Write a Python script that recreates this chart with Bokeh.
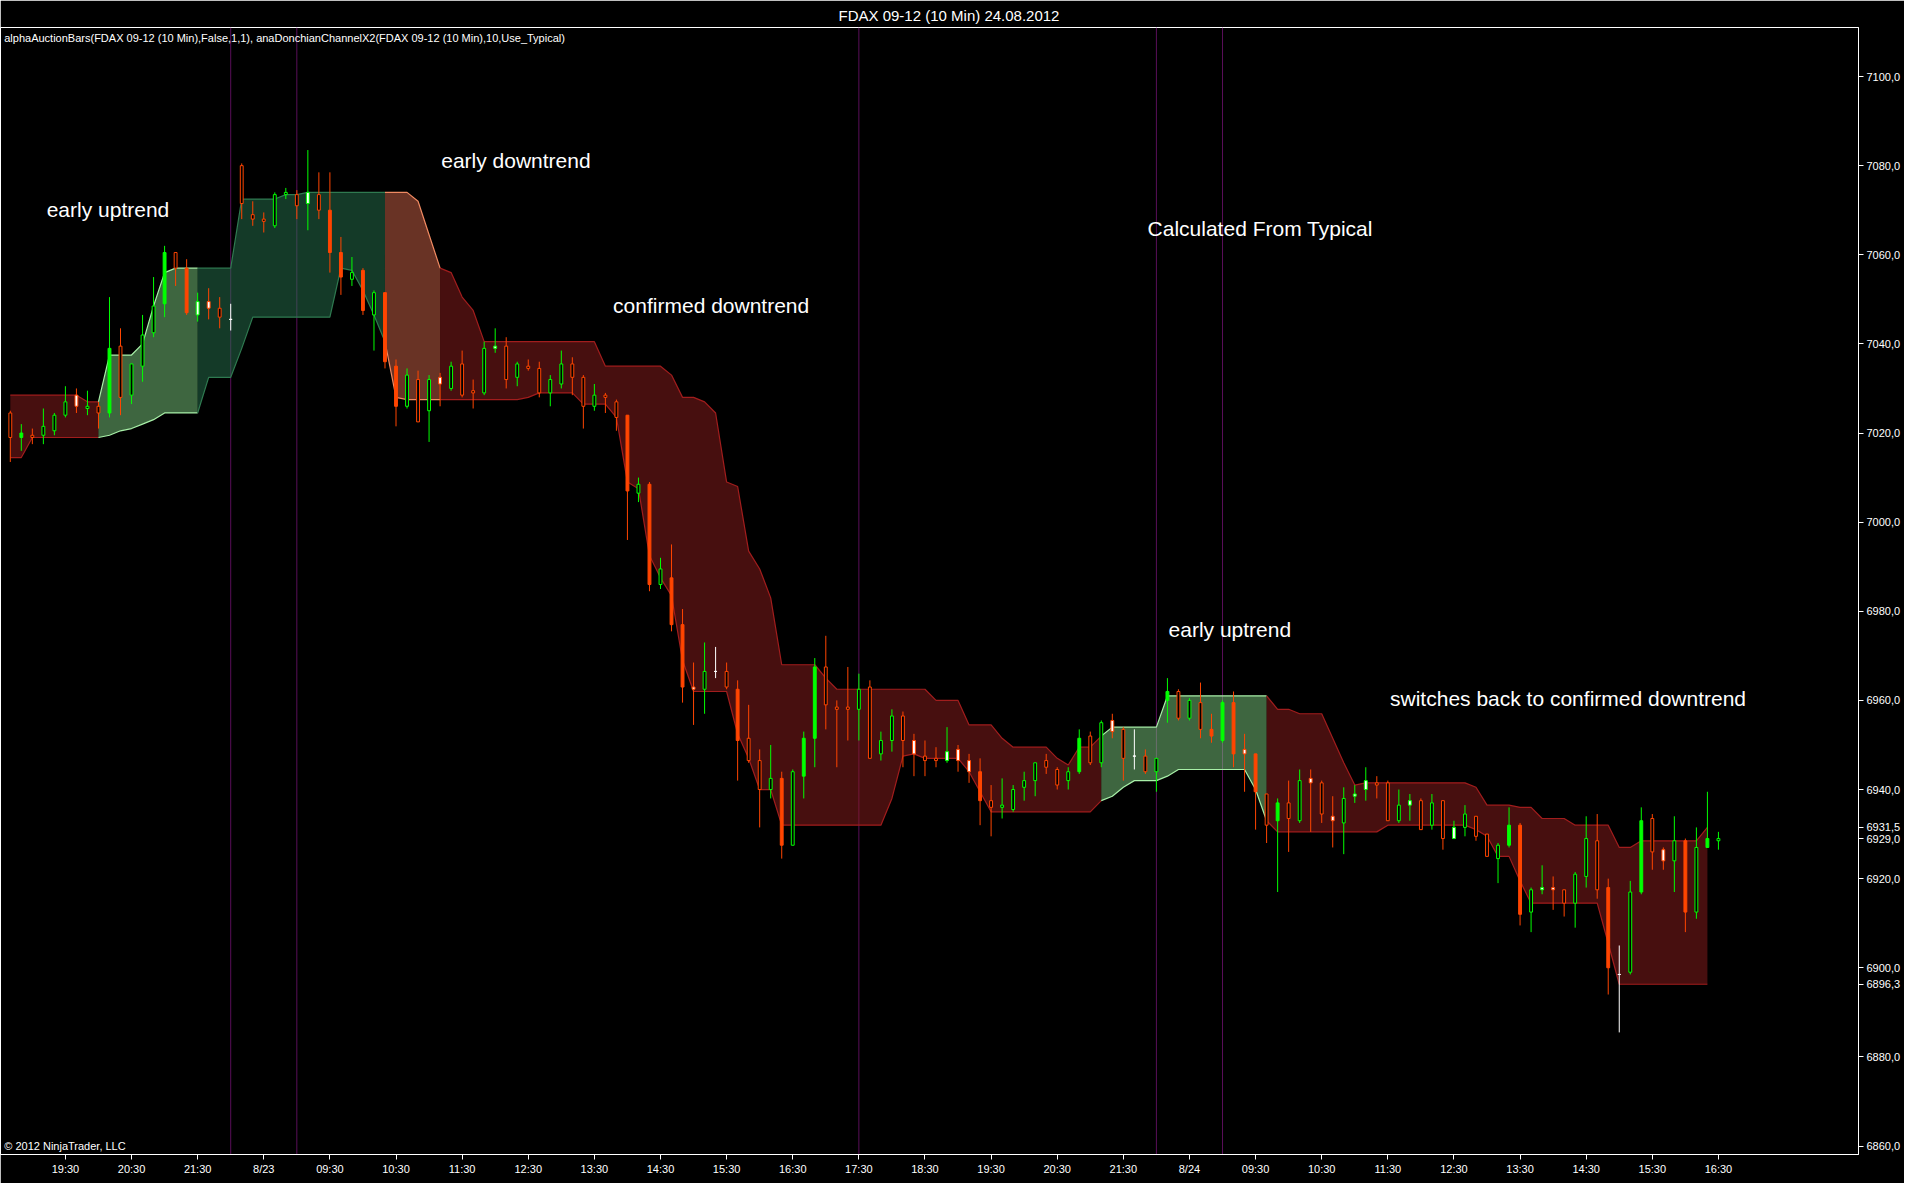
from bokeh.plotting import figure
from bokeh.models import FixedTicker, Range1d, Span, ColumnDataSource
from bokeh.embed import file_html
from bokeh.resources import INLINE
from bokeh.core.properties import value

# ---------------- data ----------------
tick_index = [5, 11, 17, 23, 29, 35, 41, 47, 53, 59, 65, 71, 77, 83, 89, 95, 101, 107,
              113, 119, 125, 131, 137, 143, 149, 155]
tick_labels = ["19:30", "20:30", "21:30", "8/23", "09:30", "10:30", "11:30", "12:30", "13:30",
               "14:30", "15:30", "16:30", "17:30", "18:30", "19:30", "20:30", "21:30", "8/24",
               "09:30", "10:30", "11:30", "12:30", "13:30", "14:30", "15:30", "16:30"]
price_ticks = [6860, 6880, 6900, 6920, 6940, 6960, 6980, 7000, 7020, 7040, 7060, 7080, 7100]

opens = [7019.0, 7020.0, 7019.0, 7019.5, 7020.5, 7024.0, 7026.0, 7025.5, 7024.5, 7039.0,
         7028.0, 7028.5, 7035.0, 7042.5, 7060.5, 7057.0, 7057.0, 7046.5, 7048.0, 7046.0,
         7045.5, 7071.5, 7068.0, 7067.5, 7066.5, 7073.5, 7071.0, 7071.5, 7070.0, 7070.0,
         7060.5, 7054.5, 7056.5, 7046.5, 7051.5, 7035.0, 7026.0, 7022.5, 7025.0, 7031.0,
         7030.0, 7028.5, 7029.0, 7029.0, 7039.0, 7032.0, 7032.5, 7034.5, 7029.0, 7029.0,
         7031.0, 7032.5, 7026.0, 7026.0, 7028.0, 7023.5, 7024.0, 7006.5, 7008.5, 6986.0,
         6987.5, 6977.0, 6962.5, 6962.5, 6966.5, 6963.0, 6962.5, 6946.5, 6940.0, 6940.0,
         6942.5, 6927.5, 6951.5, 6967.5, 6959.0, 6958.0, 6958.0, 6958.0, 6947.0, 6948.0,
         6951.0, 6951.0, 6948.0, 6946.5, 6946.5, 6946.5, 6946.5, 6944.0, 6944.0, 6936.0,
         6936.0, 6935.5, 6940.5, 6942.0, 6945.0, 6941.0, 6942.0, 6951.5, 6946.0, 6946.0,
         6953.0, 6947.0, 6947.5, 6944.0, 6944.0, 6962.0, 6956.0, 6956.0, 6953.5, 6953.5,
         6959.5, 6959.5, 6948.0, 6948.0, 6932.0, 6937.0, 6933.5, 6933.0, 6941.5, 6934.5,
         6933.0, 6932.5, 6938.5, 6940.0, 6941.0, 6933.0, 6933.0, 6936.5, 6931.0, 6932.0,
         6929.0, 6929.0, 6931.5, 6929.5, 6925.0, 6924.5, 6932.0, 6932.0, 6912.5, 6917.5,
         6917.5, 6914.5, 6914.5, 6920.5, 6917.5, 6918.0, 6898.5, 6899.0, 6933.0, 6926.0,
         6924.0, 6924.0, 6928.5, 6912.5, 6929.0, 6928.5]
highs = [7025.0, 7022.0, 7021.0, 7025.5, 7024.5, 7030.5, 7030.0, 7029.5, 7027.0, 7050.5,
         7043.5, 7035.5, 7046.5, 7055.0, 7062.0, 7060.5, 7059.0, 7051.5, 7052.5, 7050.5,
         7049.0, 7080.5, 7072.0, 7069.5, 7074.0, 7075.0, 7074.5, 7083.5, 7078.5, 7078.5,
         7064.0, 7059.5, 7057.0, 7052.0, 7051.5, 7036.5, 7034.5, 7034.0, 7033.0, 7033.5,
         7036.0, 7038.5, 7032.0, 7040.5, 7043.5, 7041.5, 7036.0, 7036.5, 7036.0, 7033.0,
         7038.5, 7037.0, 7033.0, 7031.0, 7029.0, 7027.5, 7024.0, 7010.0, 7009.0, 6992.0,
         6995.0, 6980.5, 6968.5, 6973.0, 6972.0, 6968.5, 6964.5, 6959.0, 6949.0, 6950.0,
         6944.0, 6944.5, 6953.0, 6969.5, 6974.5, 6960.0, 6967.5, 6966.0, 6964.5, 6953.0,
         6958.0, 6957.5, 6952.5, 6951.0, 6949.5, 6954.0, 6950.0, 6948.0, 6947.0, 6941.0,
         6942.5, 6941.0, 6944.0, 6946.0, 6948.0, 6945.0, 6945.0, 6953.5, 6953.0, 6955.5,
         6957.0, 6954.0, 6953.5, 6949.0, 6947.0, 6965.0, 6962.5, 6960.5, 6964.0, 6957.0,
         6960.0, 6962.0, 6952.5, 6948.0, 6939.0, 6938.0, 6942.0, 6944.5, 6944.5, 6942.0,
         6938.5, 6940.5, 6941.0, 6945.0, 6943.0, 6942.0, 6940.0, 6939.0, 6938.0, 6939.0,
         6937.5, 6933.0, 6936.5, 6934.0, 6930.0, 6928.0, 6936.0, 6932.5, 6918.0, 6923.0,
         6920.5, 6917.5, 6921.5, 6934.0, 6934.5, 6920.0, 6905.0, 6919.5, 6936.0, 6934.5,
         6927.0, 6934.0, 6929.0, 6931.5, 6939.5, 6930.5]
lows = [7013.5, 7016.0, 7017.5, 7017.5, 7019.5, 7023.5, 7024.5, 7024.0, 7021.0, 7023.5,
        7024.0, 7026.5, 7031.5, 7041.5, 7046.0, 7053.0, 7046.5, 7045.0, 7045.5, 7043.5,
        7043.0, 7068.0, 7066.5, 7065.0, 7066.0, 7072.5, 7068.0, 7065.5, 7068.0, 7056.0,
        7051.0, 7053.0, 7046.5, 7038.5, 7034.5, 7021.5, 7025.5, 7022.5, 7018.0, 7026.0,
        7029.5, 7028.0, 7025.5, 7028.5, 7038.0, 7030.0, 7030.5, 7034.0, 7028.0, 7026.0,
        7030.0, 7028.5, 7021.0, 7025.0, 7024.5, 7020.5, 6996.0, 7004.5, 6984.5, 6985.0,
        6975.5, 6959.5, 6954.5, 6957.0, 6965.0, 6962.5, 6942.0, 6946.0, 6931.5, 6938.0,
        6924.5, 6927.5, 6938.0, 6945.0, 6953.5, 6945.0, 6951.0, 6951.0, 6947.0, 6946.5,
        6948.5, 6945.0, 6943.0, 6943.0, 6945.0, 6946.0, 6944.0, 6941.5, 6932.0, 6929.5,
        6933.5, 6935.0, 6937.5, 6938.5, 6943.5, 6940.0, 6940.0, 6943.5, 6945.5, 6945.0,
        6951.5, 6942.0, 6944.5, 6943.5, 6939.5, 6955.0, 6955.5, 6955.5, 6951.5, 6950.5,
        6950.5, 6945.0, 6939.5, 6931.0, 6928.0, 6917.0, 6926.0, 6932.5, 6930.5, 6932.5,
        6927.0, 6925.5, 6937.0, 6937.5, 6938.0, 6933.0, 6932.5, 6933.0, 6931.0, 6931.0,
        6926.5, 6929.0, 6929.5, 6928.5, 6925.0, 6919.0, 6927.0, 6909.5, 6908.0, 6916.5,
        6913.0, 6911.5, 6909.0, 6918.0, 6915.5, 6894.0, 6885.5, 6898.5, 6916.5, 6922.0,
        6922.0, 6917.0, 6908.0, 6911.0, 6927.0, 6926.5]
closes = [7024.5, 7019.0, 7019.5, 7021.5, 7024.0, 7027.0, 7028.5, 7026.0, 7026.0, 7024.5,
          7039.5, 7035.5, 7042.0, 7048.5, 7049.0, 7060.5, 7047.0, 7049.5, 7049.5, 7048.0,
          7045.5, 7080.0, 7069.0, 7068.0, 7073.5, 7074.0, 7073.5, 7074.0, 7073.5, 7060.5,
          7055.0, 7056.0, 7047.5, 7051.5, 7036.0, 7026.0, 7033.0, 7032.0, 7032.0, 7032.5,
          7035.0, 7035.5, 7029.5, 7039.0, 7039.5, 7039.5, 7035.5, 7035.0, 7034.5, 7032.0,
          7035.5, 7035.5, 7032.5, 7028.5, 7028.5, 7027.0, 7007.0, 7008.5, 6986.0, 6989.5,
          6977.0, 6963.0, 6963.0, 6966.5, 6966.5, 6966.5, 6951.0, 6951.5, 6946.5, 6942.5,
          6927.5, 6944.0, 6943.0, 6951.5, 6967.5, 6958.5, 6958.5, 6962.5, 6963.0, 6951.0,
          6956.5, 6956.5, 6951.0, 6947.5, 6947.0, 6948.5, 6949.0, 6946.5, 6937.5, 6937.5,
          6936.5, 6940.0, 6942.0, 6946.0, 6946.5, 6944.5, 6944.0, 6944.0, 6952.0, 6955.0,
          6955.5, 6953.5, 6947.5, 6947.5, 6947.0, 6960.0, 6962.0, 6960.0, 6959.5, 6952.0,
          6951.0, 6948.0, 6949.0, 6939.5, 6939.0, 6933.0, 6937.0, 6942.0, 6942.5, 6941.5,
          6934.0, 6938.0, 6939.0, 6942.0, 6941.5, 6941.5, 6936.5, 6937.5, 6937.5, 6937.0,
          6937.5, 6931.5, 6934.5, 6934.0, 6930.0, 6927.5, 6927.5, 6912.0, 6917.5, 6918.0,
          6918.0, 6917.5, 6921.0, 6929.0, 6928.5, 6900.0, 6898.5, 6917.0, 6917.0, 6933.5,
          6926.5, 6928.5, 6912.5, 6927.0, 6927.0, 6929.0]
# g/r/w = green/orange/white bar; F = filled body, H = hollow body, W = white body
styles = ["rH", "gF", "rH", "gH", "gH", "gH", "rW", "gH", "rH", "gF",
          "rH", "gH", "gH", "gH", "gF", "rH", "rF", "gW", "rW", "rH",
          "wH", "rH", "rH", "rH", "gH", "gH", "rH", "gW", "rH", "rF",
          "rF", "gH", "rF", "gH", "rF", "rF", "gH", "rH", "gH", "rW",
          "gH", "rH", "rH", "gH", "gW", "rH", "gH", "rH", "rH", "gH",
          "gH", "rH", "rH", "gH", "rH", "rH", "rF", "gH", "rF", "gH",
          "rF", "rF", "rW", "gH", "wH", "rH", "rF", "rH", "rH", "gH",
          "rF", "gH", "gF", "gF", "rH", "rH", "rH", "gH", "rH", "gH",
          "gH", "rH", "rW", "rH", "rH", "gW", "rW", "rW", "rF", "rH",
          "gH", "gH", "gH", "gH", "rH", "rH", "gH", "gF", "rH", "gH",
          "rW", "rH", "wH", "rH", "gH", "gF", "rH", "gH", "rH", "rF",
          "gF", "rF", "rW", "rF", "rH", "gF", "rH", "gH", "rW", "rH",
          "rW", "gH", "gW", "gW", "rH", "rH", "gH", "gW", "rH", "gH",
          "rH", "gW", "gH", "rH", "rH", "gH", "gF", "rF", "gH", "gW",
          "rW", "rH", "gH", "gH", "rH", "rF", "wH", "gH", "gF", "rH",
          "rW", "gH", "rF", "gH", "gF", "gH"]

channel_upper = [7028.5, 7028.5, 7028.5, 7028.5, 7028.5, 7028.5, 7028.5, 7027.0, 7027.0, 7037.5,
                 7037.5, 7037.5, 7040.0, 7048.5, 7056.0, 7057.0, 7057.0, 7057.0, 7057.0, 7057.0,
                 7057.0, 7072.5, 7072.5, 7072.5, 7072.5, 7073.5, 7073.5, 7074.0, 7074.0, 7074.0,
                 7074.0, 7074.0, 7074.0, 7074.0, 7074.0, 7074.0, 7074.0, 7072.0, 7064.5, 7057.0,
                 7056.0, 7050.5, 7047.5, 7040.5, 7040.5, 7040.5, 7040.5, 7040.5, 7040.5, 7040.5,
                 7040.5, 7040.5, 7040.5, 7040.5, 7035.0, 7035.0, 7035.0, 7035.0, 7035.0, 7035.0,
                 7033.0, 7028.0, 7028.0, 7027.0, 7024.5, 7009.0, 7008.0, 6993.5, 6989.5, 6983.0,
                 6968.0, 6968.0, 6968.0, 6968.0, 6965.0, 6962.5, 6962.5, 6962.5, 6962.5, 6962.5,
                 6962.5, 6962.5, 6962.5, 6962.5, 6960.0, 6960.0, 6960.0, 6954.5, 6954.5, 6954.5,
                 6951.5, 6949.5, 6949.5, 6949.5, 6949.5, 6947.0, 6945.5, 6949.5, 6949.5, 6952.0,
                 6954.0, 6954.0, 6954.0, 6954.0, 6954.0, 6961.0, 6961.0, 6961.0, 6961.0, 6961.0,
                 6961.0, 6961.0, 6961.0, 6961.0, 6961.0, 6958.0, 6958.0, 6957.0, 6957.0, 6957.0,
                 6951.5, 6946.0, 6941.0, 6941.5, 6941.5, 6941.5, 6941.5, 6941.5, 6941.5, 6941.5,
                 6941.5, 6941.5, 6941.5, 6940.5, 6936.5, 6936.5, 6936.5, 6936.0, 6936.0, 6933.5,
                 6933.5, 6933.5, 6932.0, 6932.0, 6932.0, 6932.0, 6927.0, 6927.0, 6928.5, 6928.5,
                 6928.5, 6928.5, 6928.5, 6928.5, 6931.5]
channel_lower = [7014.5, 7014.5, 7019.0, 7019.0, 7019.0, 7019.0, 7019.0, 7019.0, 7019.0, 7019.5,
                 7020.5, 7021.0, 7022.0, 7023.0, 7024.5, 7024.5, 7024.5, 7024.5, 7032.5, 7032.5,
                 7032.5, 7039.0, 7046.0, 7046.0, 7046.0, 7046.0, 7046.0, 7046.0, 7046.0, 7046.0,
                 7057.0, 7056.5, 7052.0, 7046.5, 7040.5, 7028.0, 7027.5, 7027.5, 7027.5, 7027.5,
                 7027.5, 7027.5, 7027.5, 7027.5, 7027.5, 7027.5, 7027.5, 7028.0, 7029.0, 7029.0,
                 7029.0, 7029.0, 7026.5, 7026.5, 7026.5, 7023.5, 7009.0, 7007.5, 6992.5, 6987.5,
                 6983.5, 6969.0, 6962.0, 6962.0, 6962.0, 6962.0, 6952.5, 6947.0, 6940.0, 6940.0,
                 6932.0, 6932.0, 6932.0, 6932.0, 6932.0, 6932.0, 6932.0, 6932.0, 6932.0, 6932.0,
                 6938.0, 6947.5, 6948.0, 6947.0, 6947.0, 6947.0, 6947.0, 6944.0, 6939.5, 6935.0,
                 6935.0, 6935.0, 6935.0, 6935.0, 6935.0, 6935.0, 6935.0, 6935.0, 6935.0, 6937.5,
                 6938.5, 6940.5, 6942.0, 6942.0, 6942.0, 6943.0, 6944.5, 6944.5, 6944.5, 6944.5,
                 6944.5, 6944.5, 6944.5, 6940.0, 6933.0, 6930.5, 6930.5, 6930.5, 6930.5, 6930.5,
                 6930.5, 6930.5, 6930.5, 6930.5, 6930.5, 6932.0, 6932.0, 6932.0, 6932.0, 6932.0,
                 6932.0, 6932.0, 6932.0, 6931.0, 6929.5, 6925.0, 6925.0, 6919.5, 6914.5, 6914.5,
                 6914.5, 6914.5, 6914.5, 6914.5, 6914.5, 6905.5, 6896.3, 6896.3, 6896.3, 6896.3,
                 6896.3, 6896.3, 6896.3, 6896.3, 6896.3]
# trend regimes of the channel: (first bar, last bar, state)
regimes = [(0, 8, "down"), (8, 17, "early_up"), (17, 34, "up"), (34, 39, "early_down"),
           (39, 99, "down"), (99, 114, "early_up"), (114, 154, "down")]
session_breaks = [20, 26, 77, 104, 110]

notes_text = ["early uptrend", "early downtrend", "confirmed downtrend", "Calculated From Typical",
              "early uptrend", "switches back to confirmed downtrend"]
notes_x = [3.3, 39.1, 54.7, 103.2, 105.1, 125.2]
notes_y = [7070.1, 7081.1, 7048.6, 7065.9, 6975.9, 6960.4]

# last-value markers shown on the price axis
marker_values = [6931.5, 6929.0, 6896.3]
marker_texts = ["6931,5", "6929,0", "6896,3"]

# ---------------- styling ----------------
bar_color = {"g": "#00ff00", "r": "#ff4500", "w": "#ffffff"}
band_fill = {"down": "#8e1e1e", "early_up": "#7ccb80", "up": "#287450", "early_down": "#d2664a"}
band_line = {"down": "#a11d1d", "early_up": "#a8f0a8", "up": "#2f7a50", "early_down": "#f08a62"}

FONT = "Liberation Sans"

p = figure(width=1904, height=1183, output_backend="svg", toolbar_location=None,
           x_range=Range1d(-0.89, 167.71), y_range=Range1d(6858.1, 7111.0),
           y_axis_location="right", background_fill_color="black",
           border_fill_color="black", min_border_left=0, min_border_right=46,
           min_border_bottom=29, min_border_top=27)
p.outline_line_color = "white"
p.grid.visible = False

p.title.text = "FDAX 09-12 (10 Min)  24.08.2012"
p.title.text_color = "white"
p.title.text_font = FONT
p.title.text_font_size = "15px"
p.title.text_font_style = "normal"
p.title.align = "left"
p.title.standoff = 8
p.title.offset = 838

for ax in (p.xaxis[0], p.yaxis[0]):
    ax.axis_line_color = "white"
    ax.major_tick_line_color = "white"
    ax.minor_tick_line_color = None
    ax.major_tick_in = 0
    ax.major_tick_out = 5
    ax.major_label_text_color = "white"
    ax.major_label_text_font = FONT
    ax.major_label_text_font_size = "11px"
    ax.major_label_standoff = 3

p.xaxis.ticker = FixedTicker(ticks=tick_index)
p.xaxis.major_label_overrides = {t: lab for t, lab in zip(tick_index, tick_labels)}
y_overrides = {t: f"{t},0" for t in price_ticks}
y_overrides.update({v: t for v, t in zip(marker_values, marker_texts)})
p.yaxis.ticker = FixedTicker(ticks=price_ticks + marker_values)
p.yaxis.major_label_overrides = y_overrides

# session break lines (behind the channel, show through it)
for sb in session_breaks:
    p.add_layout(Span(location=sb, dimension="height", line_color="#5a0f5a",
                      line_width=1, level="underlay"))

# Donchian channel, coloured by regime
for start, end, state in regimes:
    xs = list(range(start, end + 1))
    up = channel_upper[start:end + 1]
    lo = channel_lower[start:end + 1]
    p.varea(x=xs, y1=lo, y2=up, fill_color=band_fill[state], fill_alpha=0.5)
    p.line(xs, up, line_color=band_line[state], line_width=1.2)
    p.line(xs, lo, line_color=band_line[state], line_width=1.2)

# candlesticks
idx = list(range(len(opens)))
cols = [bar_color[s[0]] for s in styles]
fills = [bar_color[s[0]] if s[1] == "F" else ("white" if s[1] == "W" else "black") for s in styles]
src = ColumnDataSource(dict(
    x=idx, high=highs, low=lows,
    top=[max(o, c) for o, c in zip(opens, closes)],
    bottom=[min(o, c) for o, c in zip(opens, closes)],
    col=cols, fill=fills))
p.segment(x0="x", y0="low", x1="x", y1="high", line_color="col", line_width=1, source=src)
p.vbar(x="x", width=0.26, top="top", bottom="bottom", fill_color="fill",
       line_color="col", line_width=1, source=src)

# annotations
p.text(x=notes_x, y=notes_y, text=notes_text, text_color="white",
       text_font=value(FONT), text_font_size="21px", text_baseline="middle",
       text_align="left")
p.text(x=[-0.55], y=[7108.6],
       text=["alphaAuctionBars(FDAX 09-12 (10 Min),False,1,1), anaDonchianChannelX2(FDAX 09-12 (10 Min),10,Use_Typical)"],
       text_color="white", text_font=value(FONT), text_font_size="11px",
       text_baseline="middle", text_align="left")
p.text(x=[-0.55], y=[6858.6], text=["\u00a9 2012 NinjaTrader, LLC"], text_color="white",
       text_font=value(FONT), text_font_size="11px", text_baseline="bottom",
       text_align="left")

open("out.html", "w").write(file_html(p, INLINE))
